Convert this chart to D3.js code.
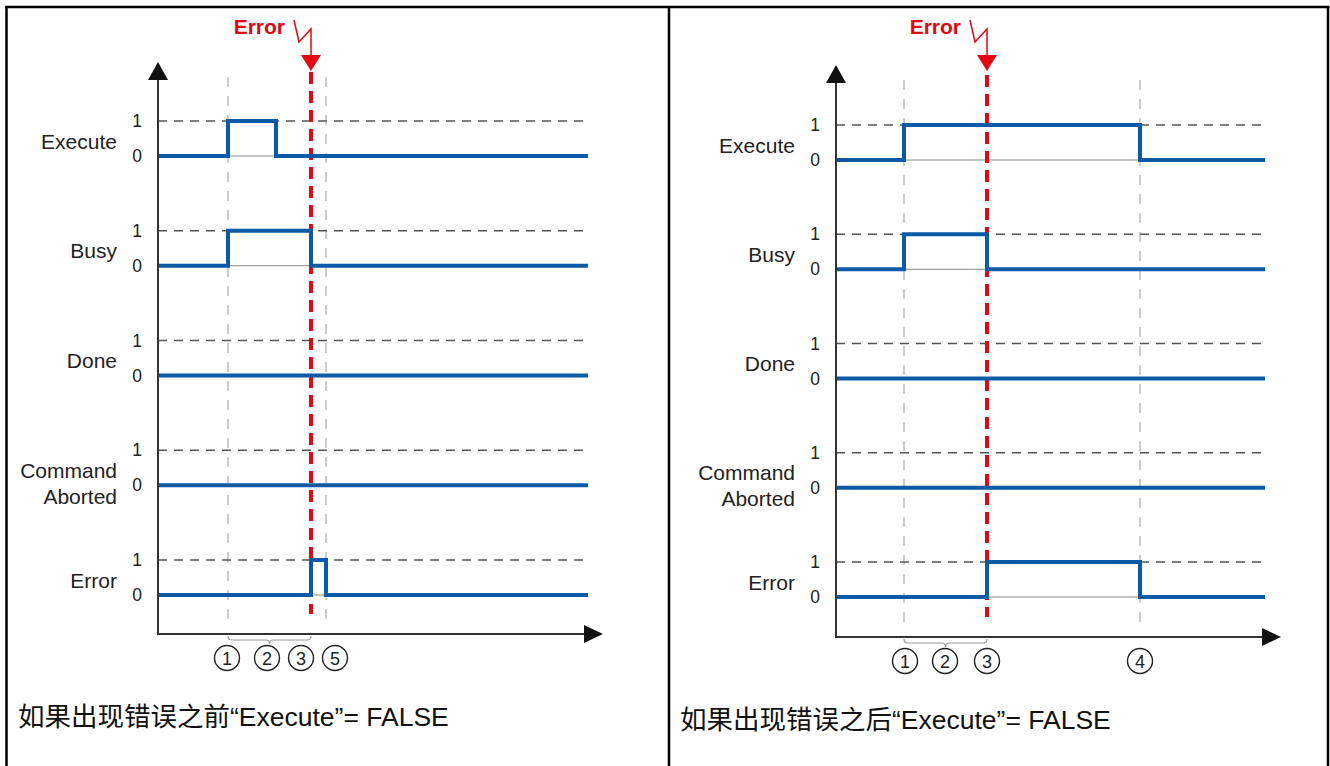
<!DOCTYPE html>
<html>
<head>
<meta charset="utf-8">
<script src="https://cdn.jsdelivr.net/npm/d3@7"></script>
<style>
  body { margin: 0; background: #fff; }
  text { font-family: "Liberation Sans", Arial, "Noto Sans CJK SC", sans-serif; }
</style>
</head>
<body>
<script>
// signal rows, top to bottom
var rowNames = ["Execute", "Busy", "Done", "Command Aborted", "Error"];
var rowLabels = [["Execute"], ["Busy"], ["Done"], ["Command", "Aborted"], ["Error"]];
var levelLabels = ["0", "1"];

// left diagram: error occurs after Execute already went FALSE
var leftExecute = [[0, 0], [70, 1], [118, 0], [430, 0]];
var leftBusy = [[0, 0], [70, 1], [153, 0], [430, 0]];
var leftDone = [[0, 0], [430, 0]];
var leftAborted = [[0, 0], [430, 0]];
var leftError = [[0, 0], [153, 1], [168, 0], [430, 0]];
var leftErrorTime = 153;
var leftGuides = [70, 168];
var leftMarks = ["1", "2", "3", "5"];
var leftMarkTimes = [69, 109, 143, 177];
var leftBrace = [70, 153];
var leftCaption = "如果出现错误之前“Execute”= FALSE";

// right diagram: Execute goes FALSE after the error
var rightExecute = [[0, 0], [68, 1], [304, 0], [429, 0]];
var rightBusy = [[0, 0], [68, 1], [151, 0], [429, 0]];
var rightDone = [[0, 0], [429, 0]];
var rightAborted = [[0, 0], [429, 0]];
var rightError = [[0, 0], [151, 1], [304, 0], [429, 0]];
var rightErrorTime = 151;
var rightGuides = [68, 304];
var rightMarks = ["1", "2", "3", "4"];
var rightMarkTimes = [69, 109, 151, 304];
var rightBrace = [68, 151];
var rightCaption = "如果出现错误之后“Execute”= FALSE";

var width = 1330, height = 766;
var blue = "#0b5aa6", red = "#e30613";

var svg = d3.select("body").append("svg")
  .attr("width", width)
  .attr("height", height);

svg.append("rect").attr("width", width).attr("height", height).attr("fill", "#fff");

// frame
var frame = svg.append("g").attr("stroke", "#000").attr("stroke-width", 2.5);
frame.append("line").attr("x1", 5).attr("x2", 1329.5).attr("y1", 7).attr("y2", 7);
frame.append("line").attr("x1", 6.5).attr("x2", 6.5).attr("y1", 7).attr("y2", height);
frame.append("line").attr("x1", 669).attr("x2", 669).attr("y1", 7).attr("y2", height);
frame.append("line").attr("x1", 1328).attr("x2", 1328).attr("y1", 7).attr("y2", height);

function drawPanel(p) {
  var g = svg.append("g");
  var x = d3.scaleLinear().domain([0, 445]).range([p.axisX, p.axisX + 445]);
  var row = d3.scalePoint().domain(rowNames).range([p.rowTop, p.rowBottom]);
  var level = d3.scaleLinear().domain([1, 0]).range([0, 35]);
  var y = function(name, v) { return row(name) + level(v); };

  // vertical guide lines
  g.selectAll(".guide").data(p.guides).enter().append("line")
    .attr("x1", function(d) { return x(d); })
    .attr("x2", function(d) { return x(d); })
    .attr("y1", p.topY + 15)
    .attr("y2", p.xAxisY - 8)
    .attr("stroke", "#999")
    .attr("stroke-width", 1)
    .attr("stroke-dasharray", "10,9");

  // rows
  rowNames.forEach(function(name, i) {
    var sig = p.signals[i];
    // "1" reference dashed line
    g.append("line")
      .attr("x1", x(0)).attr("x2", x(431))
      .attr("y1", y(name, 1)).attr("y2", y(name, 1))
      .attr("stroke", "#555").attr("stroke-width", 1.6)
      .attr("stroke-dasharray", "9,7");
    // thin zero line
    g.append("line")
      .attr("x1", x(0)).attr("x2", x(sig[sig.length - 1][0]))
      .attr("y1", y(name, 0)).attr("y2", y(name, 0))
      .attr("stroke", "#888").attr("stroke-width", 1);
    // level digits
    levelLabels.forEach(function(l) {
      g.append("text")
        .attr("x", p.axisX - 21)
        .attr("y", y(name, +l) + 6)
        .attr("text-anchor", "middle")
        .attr("font-size", 17.5)
        .attr("fill", "#222")
        .text(l);
    });
    // row label
    var lines = rowLabels[i];
    var mid = (y(name, 0) + y(name, 1)) / 2;
    lines.forEach(function(t, k) {
      g.append("text")
        .attr("x", p.axisX - 41)
        .attr("y", lines.length > 1 ? mid + 10 + k * 26 : mid + 10)
        .attr("text-anchor", "end")
        .attr("font-size", 21)
        .attr("fill", "#222")
        .text(t);
    });
  });

  // red error marker
  var ex = x(p.errorTime);
  g.append("line")
    .attr("x1", ex).attr("x2", ex)
    .attr("y1", p.topY + 10).attr("y2", p.xAxisY - 20)
    .attr("stroke", red).attr("stroke-width", 4)
    .attr("stroke-dasharray", "12,7");

  // signals
  var line = d3.line()
    .x(function(d) { return x(d[0]); })
    .curve(d3.curveStepAfter);
  rowNames.forEach(function(name, i) {
    g.append("path")
      .attr("d", line.y(function(d) { return y(name, d[1]); })(p.signals[i]))
      .attr("fill", "none")
      .attr("stroke", blue)
      .attr("stroke-width", 4)
      .attr("stroke-linejoin", "miter");
  });

  // axes
  g.append("line")
    .attr("x1", p.axisX).attr("x2", p.axisX)
    .attr("y1", p.topY + 14).attr("y2", p.xAxisY)
    .attr("stroke", "#333").attr("stroke-width", 2);
  g.append("line")
    .attr("x1", p.axisX - 1).attr("x2", x(428))
    .attr("y1", p.xAxisY).attr("y2", p.xAxisY)
    .attr("stroke", "#333").attr("stroke-width", 2);
  g.append("path")
    .attr("d", "M" + (p.axisX - 10) + "," + (p.topY + 18) + "L" + p.axisX + "," + p.topY + "L" + (p.axisX + 10) + "," + (p.topY + 18) + "Z")
    .attr("fill", "#111");
  g.append("path")
    .attr("d", "M" + x(426) + "," + (p.xAxisY - 9) + "L" + x(445) + "," + p.xAxisY + "L" + x(426) + "," + (p.xAxisY + 9) + "Z")
    .attr("fill", "#111");

  // brace under the axis
  var b0 = x(p.brace[0]), b1 = x(p.brace[1]), bm = (b0 + b1) / 2, by = p.xAxisY + 2;
  g.append("path")
    .attr("d", "M" + b0 + "," + by + "q0,4 4,4L" + (bm - 4) + "," + (by + 4) + "q4,0 4,4q0,-4 4,-4L" + (b1 - 4) + "," + (by + 4) + "q4,0 4,-4")
    .attr("fill", "none").attr("stroke", "#999").attr("stroke-width", 1.2);

  // circled step numbers
  var marks = g.selectAll(".mark").data(p.markTimes).enter().append("g")
    .attr("transform", function(d) { return "translate(" + x(d) + "," + (p.xAxisY + 24) + ")"; });
  marks.append("circle").attr("r", 12.5).attr("fill", "#fff").attr("stroke", "#222").attr("stroke-width", 1.4);
  marks.append("text")
    .attr("y", 6.5)
    .attr("text-anchor", "middle")
    .attr("font-size", 18)
    .attr("fill", "#222")
    .text(function(d, i) { return p.marks[i]; });

  // error label with lightning arrow
  g.append("text")
    .attr("x", ex - 26).attr("y", 34)
    .attr("text-anchor", "end")
    .attr("font-size", 21)
    .attr("font-weight", "bold")
    .attr("fill", red)
    .text("Error");
  g.append("path")
    .attr("d", "M" + (ex - 17) + ",20L" + (ex - 12) + ",42L" + ex + ",29L" + ex + ",56")
    .attr("fill", "none").attr("stroke", red).attr("stroke-width", 1.5);
  g.append("path")
    .attr("d", "M" + (ex - 10) + ",55L" + (ex + 10) + ",55L" + ex + ",71Z")
    .attr("fill", red);

  // caption
  g.append("text")
    .attr("x", p.captionX).attr("y", p.captionY)
    .attr("font-size", 26.5)
    .attr("fill", "#111")
    .text(p.caption);
}

drawPanel({
  axisX: 158, topY: 62, xAxisY: 634, rowTop: 121, rowBottom: 560,
  signals: [leftExecute, leftBusy, leftDone, leftAborted, leftError],
  errorTime: leftErrorTime, guides: leftGuides,
  marks: leftMarks, markTimes: leftMarkTimes, brace: leftBrace,
  caption: leftCaption, captionX: 18, captionY: 726
});

drawPanel({
  axisX: 836, topY: 65, xAxisY: 637, rowTop: 125, rowBottom: 562,
  signals: [rightExecute, rightBusy, rightDone, rightAborted, rightError],
  errorTime: rightErrorTime, guides: rightGuides,
  marks: rightMarks, markTimes: rightMarkTimes, brace: rightBrace,
  caption: rightCaption, captionX: 680, captionY: 729
});
</script>
</body>
</html>
